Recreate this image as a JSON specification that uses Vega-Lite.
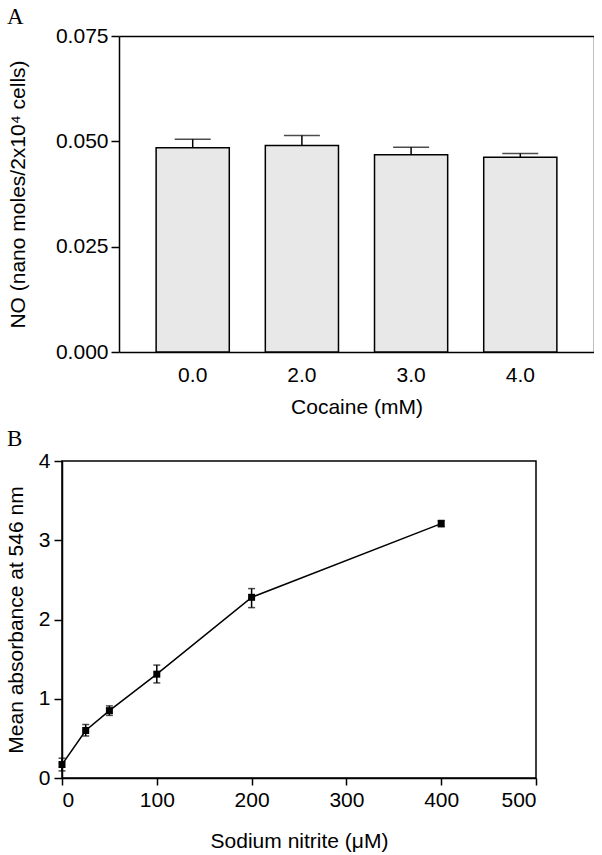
{
  "$schema": "https://vega.github.io/schema/vega-lite/v6.json",
  "padding": {"left": 4, "top": 6, "right": 0, "bottom": 0},
  "background": "white",
  "spacing": 10,
  "config": {
    "font": "Liberation Sans",
    "axis": {
      "labelFont": "Liberation Sans", "titleFont": "Liberation Sans",
      "labelFontSize": 21, "titleFontSize": 21, "titleFontWeight": "normal",
      "labelColor": "black", "titleColor": "black",
      "domainColor": "black", "tickColor": "black",
      "domainWidth": 1.5, "tickWidth": 1.5, "grid": false
    },
    "title": {"font": "Liberation Serif", "fontSize": 23, "fontWeight": "normal", "color": "black", "anchor": "start", "frame": "group"}
  },
  "vconcat": [
    {
      "width": 532, "height": 316,
      "view": {"stroke": null},
      "title": {"text": "A", "dx": -55, "offset": -4},
      "data": {"values": [
        {"cocaine": "0.0", "no": 0.0485, "hi": 0.0505},
        {"cocaine": "2.0", "no": 0.0490, "hi": 0.0514},
        {"cocaine": "3.0", "no": 0.0468, "hi": 0.0486},
        {"cocaine": "4.0", "no": 0.0462, "hi": 0.0471}
      ]},
      "resolve": {"axis": {"x": "independent", "y": "independent"}},
      "layer": [
        {
          "mark": {"type": "bar", "fill": "#e8e8e8", "stroke": "black", "strokeWidth": 1.5},
          "encoding": {
            "x": {"field": "cocaine", "type": "nominal", "sort": null,
                  "scale": {"range": [57, 532], "paddingInner": 0.33, "paddingOuter": 0.34},
                  "axis": {"ticks": false, "labelAngle": 0, "labelPadding": 12, "title": "Cocaine (mM)", "titlePadding": 11}},
            "y": {"field": "no", "type": "quantitative",
                  "scale": {"domain": [0, 0.075], "nice": false},
                  "axis": {"offset": -57, "values": [0, 0.025, 0.05, 0.075], "format": ".3f", "tickSize": 8, "labelPadding": 3,
                           "title": "NO (nano moles/2x10⁴ cells)", "titlePadding": 27}}
          }
        },
        {
          "mark": {"type": "rule", "stroke": "black", "strokeWidth": 1.5},
          "encoding": {
            "x": {"field": "cocaine", "type": "nominal", "sort": null, "axis": null},
            "y": {"field": "no", "type": "quantitative", "axis": null},
            "y2": {"field": "hi"}
          }
        },
        {
          "mark": {"type": "tick", "orient": "horizontal", "size": 36, "thickness": 1.5, "color": "black"},
          "encoding": {
            "x": {"field": "cocaine", "type": "nominal", "sort": null, "axis": null},
            "y": {"field": "hi", "type": "quantitative", "axis": null}
          }
        },
        {
          "mark": {"type": "point", "opacity": 0},
          "encoding": {
            "x": {"field": "cocaine", "type": "nominal", "sort": null,
                  "axis": {"orient": "top", "labels": false, "ticks": false, "title": null}},
            "y": {"field": "no", "type": "quantitative",
                  "axis": {"orient": "right", "labels": false, "ticks": false, "title": null}}
          }
        }
      ]
    },
    {
      "width": 474, "height": 317,
      "view": {"stroke": "black", "strokeWidth": 1.5},
      "title": {"text": "B", "dx": -55, "offset": -1},
      "data": {"values": [
        {"nitrite": 0, "abs": 0.17, "lo": 0.09, "hi": 0.25},
        {"nitrite": 25, "abs": 0.60, "lo": 0.53, "hi": 0.675},
        {"nitrite": 50, "abs": 0.85, "lo": 0.79, "hi": 0.91},
        {"nitrite": 100, "abs": 1.31, "lo": 1.20, "hi": 1.425},
        {"nitrite": 200, "abs": 2.28, "lo": 2.15, "hi": 2.39},
        {"nitrite": 400, "abs": 3.21, "lo": 3.17, "hi": 3.25}
      ]},
      "encoding": {
        "x": {"field": "nitrite", "type": "quantitative",
              "scale": {"domain": [0, 500], "nice": false},
              "axis": {"values": [0, 100, 200, 300, 400, 500], "tickSize": 7, "labelPadding": 4,
                       "title": "Sodium nitrite (μM)", "titlePadding": 20}},
        "y": {"field": "abs", "type": "quantitative",
              "scale": {"domain": [0, 4], "nice": false},
              "axis": {"values": [0, 1, 2, 3, 4], "tickSize": 8, "labelPadding": 4,
                       "title": "Mean absorbance at 546 nm", "titlePadding": 12}}
      },
      "layer": [
        {"mark": {"type": "line", "color": "black", "strokeWidth": 1.5}},
        {"mark": {"type": "rule", "color": "black", "strokeWidth": 1.5},
         "encoding": {"y": {"field": "lo", "type": "quantitative"}, "y2": {"field": "hi"}}},
        {"mark": {"type": "tick", "orient": "horizontal", "size": 7, "thickness": 1.5, "color": "black"},
         "encoding": {"y": {"field": "lo", "type": "quantitative"}}},
        {"mark": {"type": "tick", "orient": "horizontal", "size": 7, "thickness": 1.5, "color": "black"},
         "encoding": {"y": {"field": "hi", "type": "quantitative"}}},
        {"mark": {"type": "square", "size": 49, "filled": true, "color": "black", "opacity": 1}}
      ]
    }
  ]
}
